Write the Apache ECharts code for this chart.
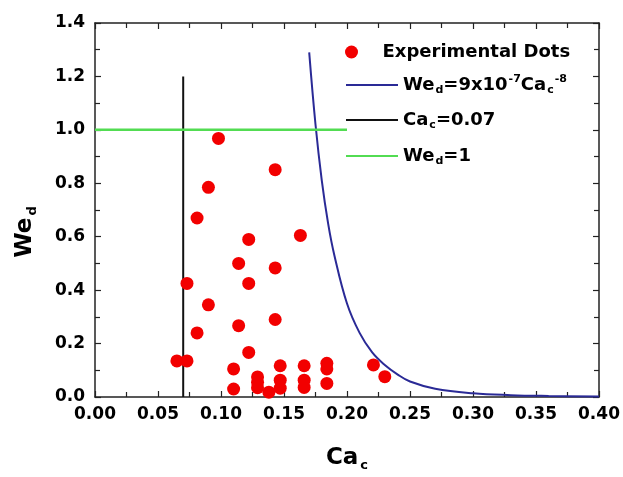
<!DOCTYPE html>
<html><head><meta charset="utf-8">
<script src="https://cdn.jsdelivr.net/npm/echarts@6/dist/echarts.min.js"></script>
<style>html,body{margin:0;padding:0;background:#fff}#c{width:623px;height:477px}</style>
</head><body><div id="c"></div>
<script>
// Experimental dots (Ca_c, We_d)
const dotsCa = [0.065, 0.073, 0.073, 0.081, 0.090, 0.081, 0.098, 0.090, 0.143, 0.122,
                0.114, 0.122, 0.143, 0.163, 0.114, 0.143, 0.122, 0.110, 0.110, 0.129,
                0.129, 0.129, 0.138, 0.147, 0.147, 0.147, 0.166, 0.166, 0.166, 0.184,
                0.184, 0.184, 0.221, 0.230];
const dotsWe = [0.135, 0.135, 0.425, 0.670, 0.345, 0.240, 0.968, 0.785, 0.851, 0.590,
                0.500, 0.425, 0.483, 0.605, 0.267, 0.290, 0.167, 0.105, 0.030, 0.075,
                0.055, 0.035, 0.018, 0.117, 0.063, 0.033, 0.117, 0.063, 0.036, 0.126,
                0.105, 0.051, 0.120, 0.076];
// Curve We_d = 9e-7 Ca_c^-8
const curveCa = [0.170, 0.175, 0.180, 0.185, 0.190, 0.200, 0.210, 0.220, 0.230, 0.240, 0.250, 0.270, 0.300, 0.330, 0.360, 0.400];
const curveWe = [1.29, 1.02, 0.81, 0.65, 0.53, 0.35, 0.24, 0.167, 0.12, 0.085, 0.058, 0.031, 0.014, 0.007, 0.004, 0.002];
// Ca_c = 0.07 vertical line
const caLineCa = [0.07, 0.07];
const caLineWe = [0.0, 1.2];
// We_d = 1 horizontal line
const weLineCa = [0.0, 0.2];
const weLineWe = [1.0, 1.0];
// Axis ranges
const xRange = [0, 0.40], xStep = 0.05;
const yRange = [0, 1.4], yStep = 0.2;

const zip = (a, b) => a.map((v, i) => [v, b[i]]);
const FONT = 'DejaVu Sans';
const rich = {
  sub: {fontSize: 11, fontWeight: 'bold', fontFamily: FONT, color: '#000', padding: [11, 0, 0, 1]},
  sup: {fontSize: 11, fontWeight: 'bold', fontFamily: FONT, color: '#000', padding: [0, 0, 11, 1]}
};
const richName = {
  sub: {fontSize: 13, fontWeight: 'bold', fontFamily: FONT, color: '#000', padding: [14, 0, 0, 2]}
};
const legendLabels = {
  'Experimental Dots': 'Experimental Dots',
  'curve': 'We{sub|d}=9x10{sup|-7}Ca{sub|c}{sup|-8}',
  'ca': 'Ca{sub|c}=0.07',
  'we': 'We{sub|d}=1'
};
function mkLegend(name, top, ih, hideSymbol) {
  const lg = {
    data: [name], left: 345, top: top, orient: 'vertical', itemWidth: 52, itemHeight: ih,
    padding: 0, itemGap: 0, selectedMode: false,
    textStyle: {fontFamily: FONT, fontWeight: 'bold', fontSize: 18, color: '#000', rich: rich},
    formatter: () => legendLabels[name]
  };
  if (hideSymbol) lg.itemStyle = {opacity: 0};
  return lg;
}
const axisCommon = {
  type: 'value', splitLine: {show: false},
  axisLine: {onZero: false, lineStyle: {color: '#222', width: 1.5}},
  axisTick: {inside: true, length: 6, lineStyle: {color: '#222', width: 1.2}},
  minorTick: {show: true, splitNumber: 2, length: 5, lineStyle: {color: '#222', width: 1.2}},
  minorSplitLine: {show: false}
};
const chart = echarts.init(document.getElementById('c'), null, {renderer: 'canvas'});
chart.setOption({
  animation: false,
  backgroundColor: '#fff',
  grid: {left: 95, right: 24, top: 23, bottom: 79, containLabel: false},
  legend: [
    mkLegend('Experimental Dots', 43, 13, false),
    mkLegend('curve', 74, 14, true),
    mkLegend('ca', 111, 14, true),
    mkLegend('we', 147, 14, true)
  ],
  xAxis: [
    Object.assign({}, axisCommon, {
      position: 'bottom', min: xRange[0], max: xRange[1], interval: xStep,
      axisLabel: {fontFamily: FONT, fontWeight: 'bold', fontSize: 17, color: '#000', margin: 9,
                  formatter: v => v.toFixed(2)},
      name: 'Ca{sub|c}', nameLocation: 'middle', nameGap: 48,
      nameTextStyle: {fontFamily: FONT, fontWeight: 'bold', fontSize: 23, color: '#000', rich: richName}
    }),
    Object.assign({}, axisCommon, {
      position: 'top', min: xRange[0], max: xRange[1], interval: xStep,
      axisLabel: {show: false}
    })
  ],
  yAxis: [
    Object.assign({}, axisCommon, {
      position: 'left', min: yRange[0], max: yRange[1], interval: yStep,
      axisLabel: {fontFamily: FONT, fontWeight: 'bold', fontSize: 17, color: '#000', margin: 10,
                  formatter: v => v.toFixed(1)},
      name: 'We{sub|d}', nameLocation: 'middle', nameGap: 56, nameRotate: 90,
      nameTextStyle: {fontFamily: FONT, fontWeight: 'bold', fontSize: 23, color: '#000', rich: richName,
                      padding: [0, 44, 0, 0]}
    }),
    Object.assign({}, axisCommon, {
      position: 'right', min: yRange[0], max: yRange[1], interval: yStep,
      axisLabel: {show: false}
    })
  ],
  series: [
    {
      name: 'Experimental Dots', type: 'scatter', data: zip(dotsCa, dotsWe), z: 5,
      symbol: 'circle', symbolSize: 13, itemStyle: {color: '#f20000', opacity: 1}
    },
    {
      name: 'curve', type: 'line', data: zip(curveCa, curveWe), smooth: 0.4, symbol: 'none', z: 3,
      lineStyle: {color: '#2a2a96', width: 2}, itemStyle: {color: '#2a2a96'}
    },
    {
      name: 'ca', type: 'line', data: zip(caLineCa, caLineWe), symbol: 'none', z: 3,
      lineStyle: {color: '#111', width: 2}, itemStyle: {color: '#111'}
    },
    {
      name: 'we', type: 'line', data: zip(weLineCa, weLineWe), symbol: 'none', z: 3,
      lineStyle: {color: '#52dc52', width: 2.5}, itemStyle: {color: '#52dc52'}
    }
  ]
});
</script></body></html>
